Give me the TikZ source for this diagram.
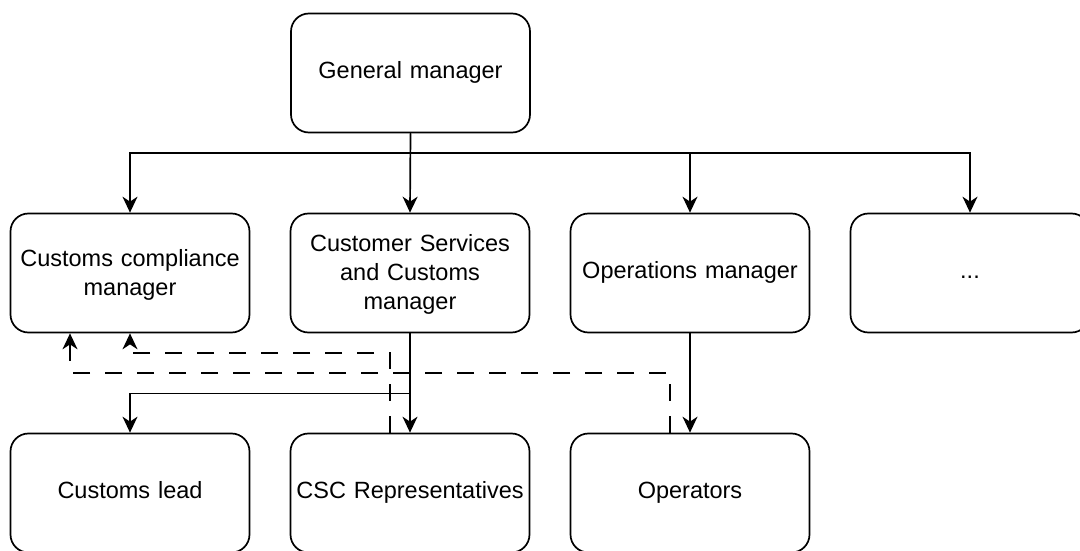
\documentclass[tikz,border=0pt]{standalone}
\usepackage{fontspec}
\setmainfont{Liberation Sans}
\usetikzlibrary{arrows.meta}

\tikzset{
  box/.style={draw, line width=1.7pt, rounded corners=18pt, minimum width=239pt,
    minimum height=119pt, align=center, text width=230pt,
    font=\fontsize{23.5}{29}\selectfont, execute at begin node={\strut}},
  arr/.style={line width=1.7pt, -{Stealth[length=16pt, width=15pt, inset=5pt]}},
  backline/.style={dash pattern=on 17pt off 15pt}
}

\begin{document}
\begin{tikzpicture}[x=1pt, y=1pt]
			% Fix the size of the picture:
			\useasboundingbox (0,0) rectangle (1080,550);
			% Specify the positions of the boxes:
			\node[box] (gm) at (410.5, 477) {General manager};
			\node[box] (ccm) at (130, 277) {Customs compliance\\manager};
			\node[box] (csm) at (410, 277) {Customer Services\\and Customs\\manager};
			\node[box] (opm) at (690, 277) {Operations manager};
			\node[box] (more) at (970, 277) {...};
			\node[box] (lead) at (130, 57) {Customs lead};
			\node[box] (csr) at (410, 57) {CSC Representatives};
			\node[box] (ops) at (690, 57) {Operators};
			% Draw edges from the general manager:
			\draw[arr] (gm.south) -- ++(0,-20) -| (ccm.north);
			\draw[arr] (gm.south) -- (csm.north);
			\draw[arr] (gm.south) -- ++(0,-20) -| (opm.north);
			\draw[arr] (gm.south) -- ++(0,-20) -| (more.north);
			% Draw edges to the third row:
			\draw[arr] (csm.south) -- (csr.north);
			\draw[arr] (csm.south) -- ++(0,-60) -| (lead.north);
			\draw[arr] (opm.south) -- (ops.north);
			% Draw dashed edges back to compliance:
			\draw[arr, backline] ([xshift=-20pt]csr.north) -- ++(0,80) -| (ccm.south);
			\draw[arr, backline] ([xshift=-20pt]ops.north) -- ++(0,60) -| ([xshift=-60pt]ccm.south);
		\end{tikzpicture}
\end{document}
